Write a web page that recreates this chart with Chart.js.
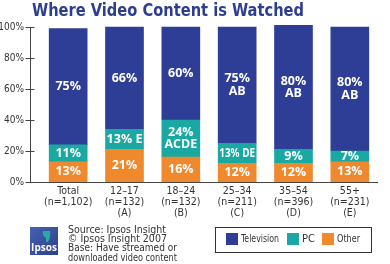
<!DOCTYPE html>
<html>
<head>
<meta charset="utf-8">
<script src="https://cdn.jsdelivr.net/npm/chart.js@4.4.0/dist/chart.umd.min.js"></script>
<style>
  html, body { margin: 0; padding: 0; background: #fff; }
  #wrap { width: 390px; height: 264px; position: relative; }
</style>
</head>
<body>
<div id="wrap"><canvas id="videoChart"></canvas></div>
<script>
const categories = [
  ["Total", "(n=1,102)", ""],
  ["12–17", "(n=132)", "(A)"],
  ["18–24", "(n=132)", "(B)"],
  ["25–34", "(n=211)", "(C)"],
  ["35–54", "(n=396)", "(D)"],
  ["55+", "(n=231)", "(E)"]
];
const television = [75, 66, 60, 75, 80, 80];
const pc = [11, 13, 24, 13, 9, 7];
const other = [13, 21, 16, 12, 12, 13];

const tvLabels = [["75%"], ["66%"], ["60%"], ["75%", "AB"], ["80%", "AB"], ["80%", "AB"]];
const pcLabels = [["11%"], ["13% E"], ["24%", "ACDE"], ["13% DE"], ["9%"], ["7%"]];
const otherLabels = [["13%"], ["21%"], ["16%"], ["12%"], ["12%"], ["13%"]];

const yTicks = [0, 20, 40, 60, 80, 100];
const titleText = "Where Video Content is Watched";
const sourceLines = ["Source: Ipsos Insight", "© Ipsos Insight 2007", "Base: Have streamed or", "downloaded video content"];

const NARROW = "'Liberation Sans Narrow', 'DejaVu Sans Condensed', sans-serif";
const TV_COLOR = "#2e3d96";
const PC_COLOR = "#1aa9a2";
const OTHER_COLOR = "#f0892e";

// Labels written inside each bar segment
const barLabels = {
  id: "barLabels",
  afterDatasetsDraw(chart) {
    const ctx = chart.ctx;
    const sets = [otherLabels, pcLabels, tvLabels];
    ctx.save();
    ctx.fillStyle = "#fff";
    ctx.font = "bold 12.5px 'Open Sans', sans-serif";
    ctx.textAlign = "center";
    ctx.textBaseline = "middle";
    sets.forEach((labels, di) => {
      const meta = chart.getDatasetMeta(di);
      meta.data.forEach((bar, i) => {
        const lines = labels[i];
        const cy = (bar.y + bar.base) / 2;
        const lh = 12.5;
        lines.forEach((txt, li) => {
          const y = cy + (li - (lines.length - 1) / 2) * lh;
          ctx.fillText(txt, bar.x, y, bar.width - 2);
        });
      });
    });
    ctx.restore();
  }
};

// Title, axis lines, legend box, logo and source notes
const decor = {
  id: "decor",
  afterDraw(chart) {
    const ctx = chart.ctx;
    const area = chart.chartArea;
    const ys = chart.scales.y;
    const axisX = area.left - 10 + 0.5;
    const zeroY = Math.round(ys.getPixelForValue(0)) + 0.5;

    ctx.save();
    // title
    ctx.fillStyle = "#2e3e8e";
    ctx.font = "bold 18px " + NARROW;
    ctx.textBaseline = "middle";
    ctx.textAlign = "left";
    ctx.fillText(titleText, 32, 11, 272);

    // axes
    ctx.strokeStyle = "#444";
    ctx.lineWidth = 1;
    ctx.beginPath();
    ctx.moveTo(axisX, Math.round(ys.getPixelForValue(100)));
    ctx.lineTo(axisX, zeroY);
    ctx.moveTo(axisX, zeroY);
    ctx.lineTo(area.right, zeroY);
    yTicks.forEach(v => {
      const py = Math.round(ys.getPixelForValue(v)) + 0.5;
      ctx.moveTo(axisX - 5, py);
      ctx.lineTo(axisX + 4, py);
    });
    ctx.stroke();

    // legend
    const items = [
      { label: "Television", color: TV_COLOR, x: 226, w: 38 },
      { label: "PC", color: PC_COLOR, x: 287, w: 14 },
      { label: "Other", color: OTHER_COLOR, x: 322, w: 23 }
    ];
    ctx.strokeStyle = "#333";
    ctx.strokeRect(215.5, 227.5, 156, 25);
    ctx.font = "11px " + NARROW;
    items.forEach(it => {
      ctx.fillStyle = it.color;
      ctx.fillRect(it.x, 233, 12, 12);
      ctx.fillStyle = "#333";
      ctx.fillText(it.label, it.x + 15, 239.5, it.w);
    });

    // logo
    const g = ctx.createLinearGradient(30, 227, 58, 255);
    g.addColorStop(0, "#4562b0");
    g.addColorStop(1, "#2c3f8f");
    ctx.fillStyle = g;
    ctx.fillRect(30, 227, 28, 28);
    ctx.fillStyle = "#27a9a4";
    ctx.beginPath();
    ctx.moveTo(43, 231);
    ctx.lineTo(50, 231);
    ctx.quadraticCurveTo(51, 237, 48, 242);
    ctx.lineTo(46, 242);
    ctx.lineTo(46, 238);
    ctx.quadraticCurveTo(42, 236, 43, 231);
    ctx.fill();
    ctx.fillStyle = "#fff";
    ctx.font = "bold 10px 'Open Sans', sans-serif";
    ctx.textAlign = "center";
    ctx.fillText("Ipsos", 44, 248, 27);

    // source text
    ctx.fillStyle = "#333";
    ctx.textAlign = "left";
    ctx.font = "10.5px " + NARROW;
    sourceLines.forEach((s, i) => ctx.fillText(s, 68, 230 + i * 9.3, 109));
    ctx.restore();
  }
};

new Chart(document.getElementById("videoChart"), {
  type: "bar",
  data: {
    labels: categories,
    datasets: [
      { label: "Other", data: other, backgroundColor: OTHER_COLOR },
      { label: "PC", data: pc, backgroundColor: PC_COLOR },
      { label: "Television", data: television, backgroundColor: TV_COLOR }
    ]
  },
  options: {
    responsive: true,
    maintainAspectRatio: false,
    animation: false,
    layout: { padding: { left: 0, right: 12, top: 27, bottom: 0 } },
    datasets: { bar: { barThickness: 38, clip: false } },
    plugins: {
      legend: { display: false },
      tooltip: { enabled: false },
      title: { display: false }
    },
    scales: {
      x: {
        stacked: true,
        grid: { display: false, drawTicks: false },
        border: { display: false },
        ticks: {
          color: "#333",
          font: { family: NARROW, size: 10.5, lineHeight: 1.05 },
          padding: 4,
          maxRotation: 0,
          autoSkip: false
        },
        afterFit(scale) { scale.height = 82; }
      },
      y: {
        stacked: true,
        min: 0,
        max: 100,
        grid: { display: false, drawTicks: false },
        border: { display: false },
        afterBuildTicks(scale) { scale.ticks = yTicks.map(v => ({ value: v })); },
        ticks: {
          color: "#333",
          font: { family: NARROW, size: 10 },
          padding: 16,
          callback: v => v + "%"
        },
        afterFit(scale) { scale.width = 40; }
      }
    }
  },
  plugins: [barLabels, decor]
});
</script>
</body>
</html>
